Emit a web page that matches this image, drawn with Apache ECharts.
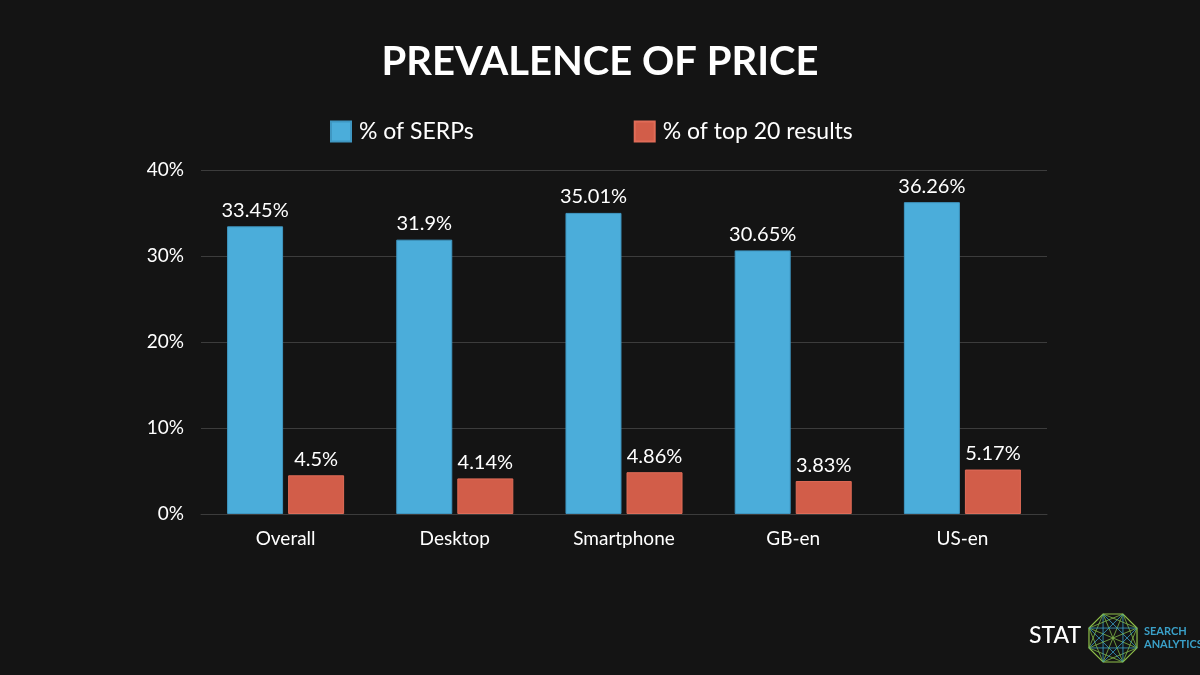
<!DOCTYPE html>
<html><head><meta charset="utf-8">
<script src="https://cdn.jsdelivr.net/npm/echarts@6/dist/echarts.min.js"></script>
<style>html,body{margin:0;padding:0;background:#141414;}#c{width:1200px;height:675px;}</style>
</head><body><div id="c"></div>
<script>
const categories = ['Overall','Desktop','Smartphone','GB-en','US-en'];
const serps = [33.45, 31.9, 35.01, 30.65, 36.26];
const top20 = [4.5, 4.14, 4.86, 3.83, 5.17];
const yTicks = [0, 10, 20, 30, 40];

const font = 'Lato, "Open Sans", sans-serif';
const chart = echarts.init(document.getElementById('c'));

// logo octagon (decorative)
const cx = 1113, cy = 638, r = 26;
const pts = [];
for (let i = 0; i < 8; i++) {
  const a = Math.PI / 8 + i * Math.PI / 4;
  pts.push([cx + r * Math.cos(a), cy + r * Math.sin(a)]);
}
const logo = [];
logo.push({type:'polygon', shape:{points:pts}, style:{fill:'none', stroke:'#8fc04a', lineWidth:1.2}});
for (let i = 0; i < 8; i++) for (let j = i + 2; j < 8; j++) {
  if (i === 0 && j === 7) continue;
  logo.push({type:'line', shape:{x1:pts[i][0], y1:pts[i][1], x2:pts[j][0], y2:pts[j][1]},
    style:{stroke: (i + j) % 2 ? '#3aa0c8' : '#7fb84a', lineWidth:0.8}});
}
logo.push({type:'text', left:1029, top:624, style:{text:'STAT', fill:'#ffffff', font:'500 23px ' + font}});
logo.push({type:'text', left:1144, top:625, style:{text:'SEARCH\nANALYTICS', fill:'#3aa0c8', font:'bold 11px ' + font, lineHeight:13}});

chart.setOption({
  backgroundColor: '#141414',
  title: {text:'PREVALENCE OF PRICE', left:'center', top:37,
    textStyle:{color:'#ffffff', fontSize:40, fontWeight:'bold', fontFamily:font}},
  legend: {top:120, left:330, padding:0, itemGap:160, itemWidth:20, itemHeight:20,
    icon:'rect', textStyle:{color:'#ffffff', fontSize:23, fontFamily:font, padding:[0,0,0,3]},
    data:['% of SERPs','% of top 20 results']},
  grid: {left:201, right:153, top:170, bottom:161},
  xAxis: {type:'category', data:categories,
    axisLine:{show:true, lineStyle:{color:'#3c3c3c'}}, axisTick:{show:false},
    axisLabel:{color:'#ffffff', fontSize:19, fontFamily:font, margin:15}},
  yAxis: {type:'value', min:0, max:40, interval:10,
    axisLabel:{color:'#ffffff', fontSize:19, fontFamily:font, margin:17, formatter:v => v + '%'},
    splitLine:{lineStyle:{color:'#3c3c3c'}}, axisLine:{show:false}, axisTick:{show:false}},
  series: [
    {name:'% of SERPs', type:'bar', data:serps, barWidth:56, barGap:'9%',
     itemStyle:{color:'#4badda', borderColor:'#3f97c2', borderWidth:1},
     label:{show:true, position:'top', distance:6, color:'#ffffff', fontSize:20, fontFamily:font, formatter:p => p.value + '%'}},
    {name:'% of top 20 results', type:'bar', data:top20, barWidth:56,
     itemStyle:{color:'#d25d49', borderColor:'#e06c58', borderWidth:1},
     label:{show:true, position:'top', distance:6, color:'#ffffff', fontSize:20, fontFamily:font, formatter:p => p.value + '%'}}
  ],
  graphic: logo
});
</script></body></html>
